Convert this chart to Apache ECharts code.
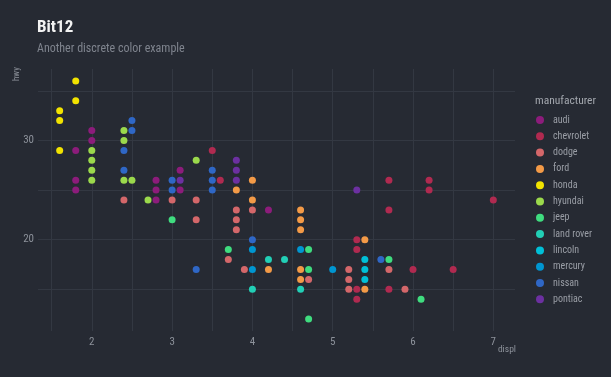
<!DOCTYPE html>
<html>
<head>
<meta charset="utf-8">
<script src="https://cdn.jsdelivr.net/npm/echarts@6/dist/echarts.min.js"></script>
<style>
  html, body { margin: 0; padding: 0; background: #262a33; }
  #chart { width: 611px; height: 377px; }
</style>
</head>
<body>
<div id="chart"></div>
<script>
// manufacturers in legend order
const manufacturers = ['audi', 'chevrolet', 'dodge', 'ford', 'honda', 'hyundai', 'jeep',
  'land rover', 'lincoln', 'mercury', 'nissan', 'pontiac'];
const colors = ['#8c1c7b', '#b02a50', '#d4676a', '#f39a47', '#f2e300', '#9bd94c', '#3fdc7f',
  '#22cfb6', '#00c0d8', '#0096d1', '#2f67c6', '#6c30a1'];

// [displ, hwy]
const audi = [[1.8, 29], [1.8, 26], [1.8, 25], [2.0, 31], [2.0, 30], [2.8, 26], [2.8, 25],
  [2.8, 24], [3.1, 27], [3.1, 25], [4.2, 23]];
const chevrolet = [[3.5, 29], [3.6, 26], [5.7, 26], [5.7, 23], [6.2, 26], [6.2, 25], [7.0, 24],
  [5.3, 20], [5.3, 19], [5.3, 15], [5.3, 14], [5.7, 15], [6.0, 17], [6.5, 17]];
const dodge = [[2.4, 24], [3.0, 24], [3.3, 24], [3.3, 22], [3.8, 23], [3.8, 22], [3.8, 21],
  [3.7, 18], [3.9, 17], [4.0, 23], [4.7, 16], [5.2, 17], [5.2, 16], [5.2, 15], [5.7, 17], [5.9, 15]];
const ford = [[3.8, 25], [4.0, 26], [4.0, 24], [4.2, 17], [4.6, 23], [4.6, 22], [4.6, 21],
  [4.6, 17], [4.6, 16], [5.4, 20], [5.4, 15]];
const honda = [[1.6, 33], [1.6, 32], [1.6, 29], [1.8, 36], [1.8, 34]];
const hyundai = [[2.0, 29], [2.0, 28], [2.0, 27], [2.0, 26], [2.4, 31], [2.4, 30], [2.4, 26],
  [2.5, 26], [2.7, 24], [3.3, 28]];
const jeep = [[3.0, 22], [3.7, 19], [4.7, 19], [4.7, 17], [4.7, 12], [5.7, 18], [6.1, 14]];
const landRover = [[4.0, 15], [4.2, 18], [4.4, 18], [4.6, 15]];
const lincoln = [[5.4, 18], [5.4, 17], [5.4, 16]];
const mercury = [[4.0, 19], [4.0, 17], [4.6, 19], [5.0, 17]];
const nissan = [[2.5, 32], [2.5, 31], [2.4, 29], [2.4, 27], [3.0, 26], [3.0, 25], [3.3, 17],
  [3.5, 27], [3.5, 26], [3.5, 25], [4.0, 20], [5.6, 18]];
const pontiac = [[3.1, 26], [3.8, 28], [3.8, 27], [3.8, 26], [5.3, 25]];

const allData = [audi, chevrolet, dodge, ford, honda, hyundai, jeep, landRover, lincoln, mercury, nissan, pontiac];

const xTicks = [2, 3, 4, 5, 6, 7];
const yTicks = [20, 30];
const xGrid = [1.5, 2, 2.5, 3, 3.5, 4, 4.5, 5, 5.5, 6, 6.5, 7];
const yGrid = [15, 20, 25, 30, 35];

const labelColor = '#8d929b';
const gridColor = '#333842';
const font = 'Roboto Condensed, Roboto';

const chart = echarts.init(document.getElementById('chart'));

const series = manufacturers.map((name, i) => ({
  name: name,
  type: 'scatter',
  data: allData[i],
  symbolSize: 7,
  itemStyle: { color: colors[i], opacity: 1 },
  z: 3
}));

// grid lines drawn through the axes' own scales, kept under the points
series.unshift({
  name: 'grid',
  type: 'scatter',
  data: [],
  silent: true,
  z: 1,
  markLine: {
    silent: true,
    z: 1,
    symbol: 'none',
    label: { show: false },
    animation: false,
    lineStyle: { color: gridColor, width: 1, type: 'solid' },
    data: xGrid.map(v => ({ xAxis: v })).concat(yGrid.map(v => ({ yAxis: v })))
  }
});

const option = {
  backgroundColor: '#262a33',
  animation: false,
  title: [
    {
      text: 'Bit12',
      subtext: 'Another discrete color example',
      left: 32,
      top: 14,
      itemGap: 7,
      textStyle: { color: '#f2f2f2', fontSize: 17, fontWeight: 'bold', fontFamily: font },
      subtextStyle: { color: '#7f848e', fontSize: 12, fontFamily: font }
    },
    {
      text: 'manufacturer',
      left: 530,
      top: 90,
      textStyle: { color: '#a3a7ae', fontSize: 11.5, fontWeight: 'normal', fontFamily: font }
    }
  ],
  legend: {
    orient: 'vertical',
    left: 531,
    top: 110,
    icon: 'circle',
    itemWidth: 16,
    itemHeight: 8,
    itemGap: 6.3,
    data: manufacturers,
    textStyle: { color: '#9a9ea6', fontSize: 10, fontFamily: font }
  },
  grid: { left: 38, right: 96, top: 69, bottom: 46, containLabel: false },
  xAxis: {
    type: 'value',
    min: 1.33,
    max: 7.27,
    axisLine: { show: false },
    axisTick: { show: false },
    splitLine: { show: false },
    axisLabel: { customValues: xTicks, color: labelColor, fontSize: 11, margin: 6, fontFamily: font }
  },
  yAxis: {
    type: 'value',
    min: 10.8,
    max: 37.2,
    axisLine: { show: false },
    axisTick: { show: false },
    splitLine: { show: false },
    axisLabel: { customValues: yTicks, color: labelColor, fontSize: 11, margin: 4, fontFamily: font }
  },
  graphic: [
    {
      type: 'text',
      x: 17,
      y: 74,
      rotation: Math.PI / 2,
      style: { text: 'hwy', fill: '#8d929b', fontSize: 9, textAlign: 'center', textVerticalAlign: 'middle', fontFamily: font }
    },
    {
      type: 'text',
      x: 516,
      y: 350,
      style: { text: 'displ', fill: '#8d929b', fontSize: 9.5, textAlign: 'right', textVerticalAlign: 'middle', fontFamily: font }
    }
  ],
  series: series
};

chart.setOption(option);
</script>
</body>
</html>
